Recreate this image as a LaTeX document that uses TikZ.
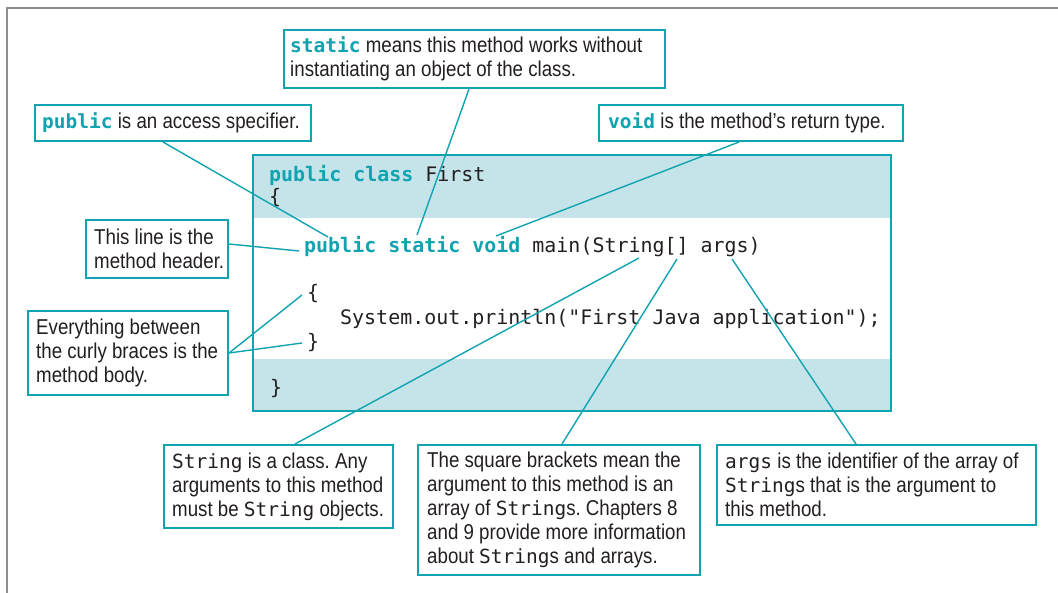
\documentclass[tikz,border=0pt]{standalone}
\usepackage{fontspec}
\setmainfont{Liberation Sans}[FakeStretch=0.87]
\newfontfamily\codefont{DejaVu Sans Mono}[Scale=0.907]
\usetikzlibrary{calc}
\definecolor{teal1}{RGB}{16,163,176}
\definecolor{band}{RGB}{197,228,234}
\definecolor{ink}{RGB}{35,31,32}
\definecolor{framegray}{RGB}{140,140,145}
\newcommand{\kw}[1]{{\codefont\bfseries\color{teal1}#1}}
\newcommand{\cd}[1]{{\codefont #1}}
\frenchspacing
\tikzset{
  note/.style={draw=teal1, line width=2pt, fill=white, anchor=north west, inner sep=0pt},
  notetext/.style={anchor=west, align=left, inner sep=0pt, text=ink, font=\fontsize{21.5}{24}\selectfont},
  codeline/.style={anchor=base west, inner sep=0pt, text=ink, font=\fontsize{22}{24}\selectfont\codefont},
  link/.style={draw=teal1, line width=1.4pt},
}
\begin{document}
\begin{tikzpicture}[x=1pt,y=-1pt]
\useasboundingbox (0,0) rectangle (1058,593);
\fill[white] (0,0) rectangle (1058,593);
% outer frame
\draw[framegray, line width=2pt] (7,593) -- (7,8) -- (1058,8);

% code box
\node[fill=white, minimum width=638, minimum height=256, anchor=north west, inner sep=0pt] (codebox) at (253,155) {};
\fill[band] (codebox.north west) rectangle ($(codebox.north east)+(0,63)$);
\fill[band] ($(codebox.south west)+(0,-52)$) rectangle (codebox.south east);
\draw[teal1, line width=2pt] (codebox.north west) rectangle (codebox.south east);

\node[codeline] (l1) at (269,182) {\kw{public class} First};
\node[codeline] (l2) at (269,204) {\{};
\node[codeline] (l3) at (304,253) {\kw{public static void} main(String[] args)};
\node[codeline] (l4) at (307,300) {\{};
\node[codeline] (l5) at (340,325) {System.out.println("First Java application");};
\node[codeline] (l6) at (307,349) {\}};
\node[codeline] (l7) at (270,395) {\}};

% target points in the code
\coordinate (cPub) at (328,237);
\coordinate (cStatic) at (417,235);
\coordinate (cVoid) at (496,236);
\coordinate (cHead) at (299,251);
\coordinate (cOpen) at (302,295);
\coordinate (cClose) at (302,343);
\coordinate (cString) at (639,258);
\coordinate (cBrack) at (677,259);
\coordinate (cArgs) at (732,259);

% note boxes
\node[note, minimum width=381, minimum height=58] (staticbox) at (283,29) {};
\node[notetext] (statictext) at ($(staticbox.west)+(7,0)$) {\kw{static} means this method works without\\instantiating an object of the class.};

\node[note, minimum width=276, minimum height=36] (pubbox) at (34,104) {};
\node[notetext] (pubtext) at ($(pubbox.west)+(8,0)$) {\kw{public} is an access specifier.};

\node[note, minimum width=304, minimum height=36] (voidbox) at (598,104) {};
\node[notetext] (voidtext) at ($(voidbox.west)+(10,0)$) {\kw{void} is the method’s return type.};

\node[note, minimum width=142, minimum height=58] (headbox) at (85,219) {};
\node[notetext] (headtext) at ($(headbox.west)+(9,0)$) {This line is the\\method header.};

\node[note, minimum width=200, minimum height=84] (bodybox) at (27,310) {};
\node[notetext] (bodytext) at ($(bodybox.west)+(9,0)$) {Everything between\\the curly braces is the\\method body.};

\node[note, minimum width=229, minimum height=83] (strbox) at (163,444) {};
\node[notetext] (strtext) at ($(strbox.west)+(9,0)$) {\cd{String} is a class. Any\\arguments to this method\\must be \cd{String} objects.};

\node[note, minimum width=282, minimum height=130] (brbox) at (417,444) {};
\node[notetext] (brtext) at ($(brbox.west)+(10,0)$) {The square brackets mean the\\argument to this method is an\\array of \cd{String}s. Chapters 8\\and 9 provide more information\\about \cd{String}s and arrays.};

\node[note, minimum width=319, minimum height=80] (argbox) at (716,444) {};
\node[notetext] (argtext) at ($(argbox.west)+(9,0)$) {\cd{args} is the identifier of the array of\\\cd{String}s that is the argument to\\this method.};

% connectors
\draw[link] ($(pubbox.south west)+(129,0)$) -- (cPub);
\draw[link] ($(staticbox.south west)+(186,0)$) -- (cStatic);
\draw[link] ($(voidbox.south west)+(141,0)$) -- (cVoid);
\draw[link] ($(headbox.east)+(0,-5)$) -- (cHead);
\draw[link] (bodybox.east) -- (cOpen);
\draw[link] (bodybox.east) -- (cClose);
\draw[link] ($(strbox.north west)+(132,0)$) -- (cString);
\draw[link] ($(brbox.north west)+(145,0)$) -- (cBrack);
\draw[link] ($(argbox.north west)+(140,0)$) -- (cArgs);
\end{tikzpicture}
\end{document}
